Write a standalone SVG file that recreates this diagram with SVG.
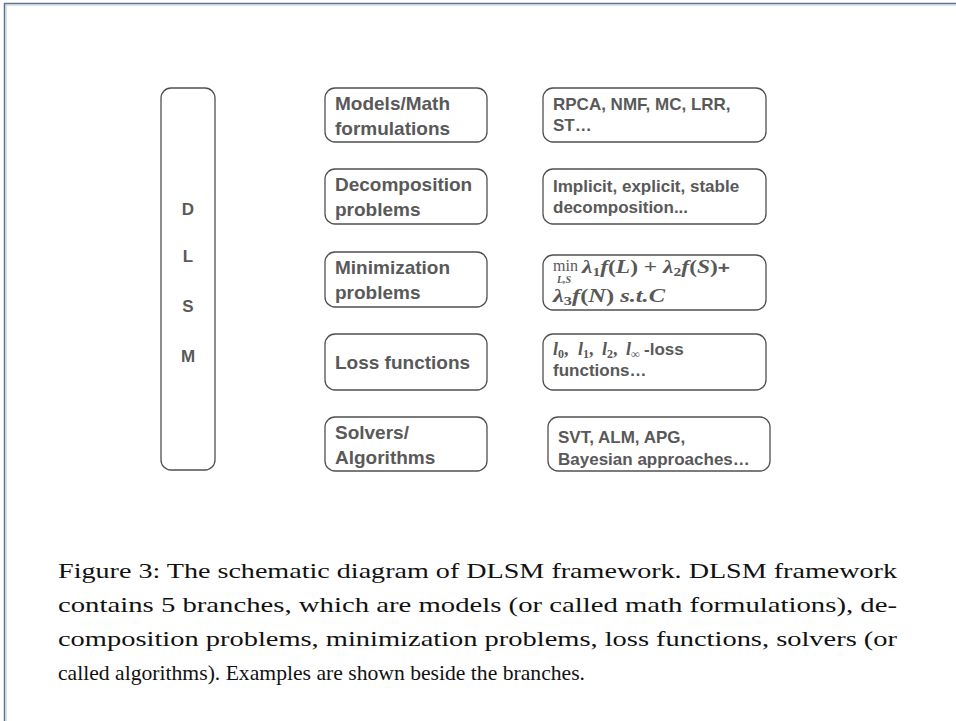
<svg xmlns="http://www.w3.org/2000/svg" width="956" height="721" viewBox="0 0 956 721">
<style>
.box{fill:#fff;stroke:#505050;stroke-width:1.3}
.lbl{font-family:"Liberation Sans",Arial,sans-serif;font-weight:bold;font-size:19px;fill:#595959}
.dl{font-family:"Liberation Sans",Arial,sans-serif;font-weight:bold;font-size:17px;fill:#595959}
.ex{font-family:"Liberation Sans",Arial,sans-serif;font-weight:bold;font-size:17px;fill:#595959}
.m{font-family:"Liberation Serif","DejaVu Serif",serif;font-weight:bold;font-style:italic;font-size:18px;fill:#595959}
.min{font-family:"Liberation Serif","DejaVu Serif",serif;font-weight:normal;font-style:normal;font-size:16px;fill:#595959}
.ls{font-family:"Liberation Serif","DejaVu Serif",serif;font-weight:bold;font-style:italic;font-size:10px;fill:#595959}
.n{font-style:normal}
.s{font-style:normal;font-size:12px}
.p{font-family:"Liberation Sans",Arial,sans-serif;font-style:normal;font-size:16px}
.cap{font-family:"Liberation Serif","Times New Roman",serif;font-size:22px;fill:#111}
</style>
<rect width="956" height="721" fill="#fff"/>
<line x1="4" y1="3.5" x2="956" y2="3.5" stroke="#5f7391" stroke-width="1.5"/>
<line x1="4" y1="5" x2="956" y2="5" stroke="#b8c8de" stroke-width="1"/>
<line x1="4.5" y1="3" x2="4.5" y2="721" stroke="#5f7391" stroke-width="1.5"/>
<line x1="6" y1="5" x2="6" y2="721" stroke="#b8c8de" stroke-width="1"/>

<g id="dlsm">
<rect class="box" x="161" y="88" width="54" height="382" rx="10"/>
<text class="dl" x="188" y="215" text-anchor="middle">D</text>
<text class="dl" x="188" y="262" text-anchor="middle">L</text>
<text class="dl" x="188" y="312" text-anchor="middle">S</text>
<text class="dl" x="188" y="362" text-anchor="middle">M</text>
</g>

<g id="models">
<rect class="box" x="325" y="88" width="162" height="54" rx="10"/>
<text class="lbl" x="335" y="110">Models/Math</text>
<text class="lbl" x="335" y="135">formulations</text>
</g>
<g id="decomposition">
<rect class="box" x="325" y="169" width="162" height="55" rx="10"/>
<text class="lbl" x="335" y="191">Decomposition</text>
<text class="lbl" x="335" y="216">problems</text>
</g>
<g id="minimization">
<rect class="box" x="325" y="252" width="162" height="55" rx="10"/>
<text class="lbl" x="335" y="274">Minimization</text>
<text class="lbl" x="335" y="299">problems</text>
</g>
<g id="loss">
<rect class="box" x="325" y="334" width="162" height="56" rx="10"/>
<text class="lbl" x="335" y="369">Loss functions</text>
</g>
<g id="solvers">
<rect class="box" x="325" y="417" width="162" height="54" rx="10"/>
<text class="lbl" x="335" y="439">Solvers/</text>
<text class="lbl" x="335" y="464">Algorithms</text>
</g>

<g id="ex-models">
<rect class="box" x="543" y="88" width="223" height="54" rx="10"/>
<text class="ex" x="553" y="110">RPCA, NMF, MC, LRR,</text>
<text class="ex" x="553" y="131">ST…</text>
</g>
<g id="ex-decomposition">
<rect class="box" x="543" y="169" width="223" height="55" rx="10"/>
<text class="ex" x="553" y="192">Implicit, explicit, stable</text>
<text class="ex" x="553" y="213">decomposition...</text>
</g>
<g id="ex-minimization">
<rect class="box" x="543" y="255" width="223" height="55" rx="10"/>
<text class="min" x="553" y="271">min</text>
<text class="ls" x="557" y="283">L,S</text>
<text class="m" x="582" y="273" textLength="148" lengthAdjust="spacingAndGlyphs">λ<tspan class="s" dy="3">1</tspan><tspan dy="-3">f</tspan><tspan class="n">(</tspan>L<tspan class="n">) + </tspan>λ<tspan class="s" dy="3">2</tspan><tspan dy="-3">f</tspan><tspan class="n">(</tspan>S<tspan class="n">)</tspan><tspan class="p">+</tspan></text>
<text class="m" x="553" y="302" textLength="112" lengthAdjust="spacingAndGlyphs">λ<tspan class="s" dy="3">3</tspan><tspan dy="-3">f</tspan><tspan class="n">(</tspan>N<tspan class="n">) </tspan>s.t.C</text>
</g>
<g id="ex-loss">
<rect class="box" x="543" y="334" width="223" height="56" rx="10"/>
<text class="m" x="553" y="355">l<tspan class="s" dy="3">0</tspan><tspan class="n" dy="-3">,</tspan></text>
<text class="m" x="578" y="355">l<tspan class="s" dy="3">1</tspan><tspan class="n" dy="-3">,</tspan></text>
<text class="m" x="602" y="355">l<tspan class="s" dy="3">2</tspan><tspan class="n" dy="-3">,</tspan></text>
<text class="m" x="626" y="355">l<tspan class="s" dy="3">∞</tspan></text>
<text class="ex" x="644" y="355">-loss</text>
<text class="ex" x="553" y="376">functions…</text>
</g>
<g id="ex-solvers">
<rect class="box" x="548" y="417" width="222" height="54" rx="10"/>
<text class="ex" x="558" y="443">SVT, ALM, APG,</text>
<text class="ex" x="558" y="465">Bayesian approaches…</text>
</g>

<g id="caption">
<text class="cap" x="58" y="578" textLength="839" lengthAdjust="spacingAndGlyphs">Figure 3: The schematic diagram of DLSM framework. DLSM framework</text>
<text class="cap" x="58" y="612" textLength="839" lengthAdjust="spacingAndGlyphs">contains 5 branches, which are models (or called math formulations), de-</text>
<text class="cap" x="58" y="646" textLength="839" lengthAdjust="spacingAndGlyphs">composition problems, minimization problems, loss functions, solvers (or</text>
<text class="cap" x="58" y="680" textLength="527" lengthAdjust="spacingAndGlyphs">called algorithms). Examples are shown beside the branches.</text>
</g>
</svg>
